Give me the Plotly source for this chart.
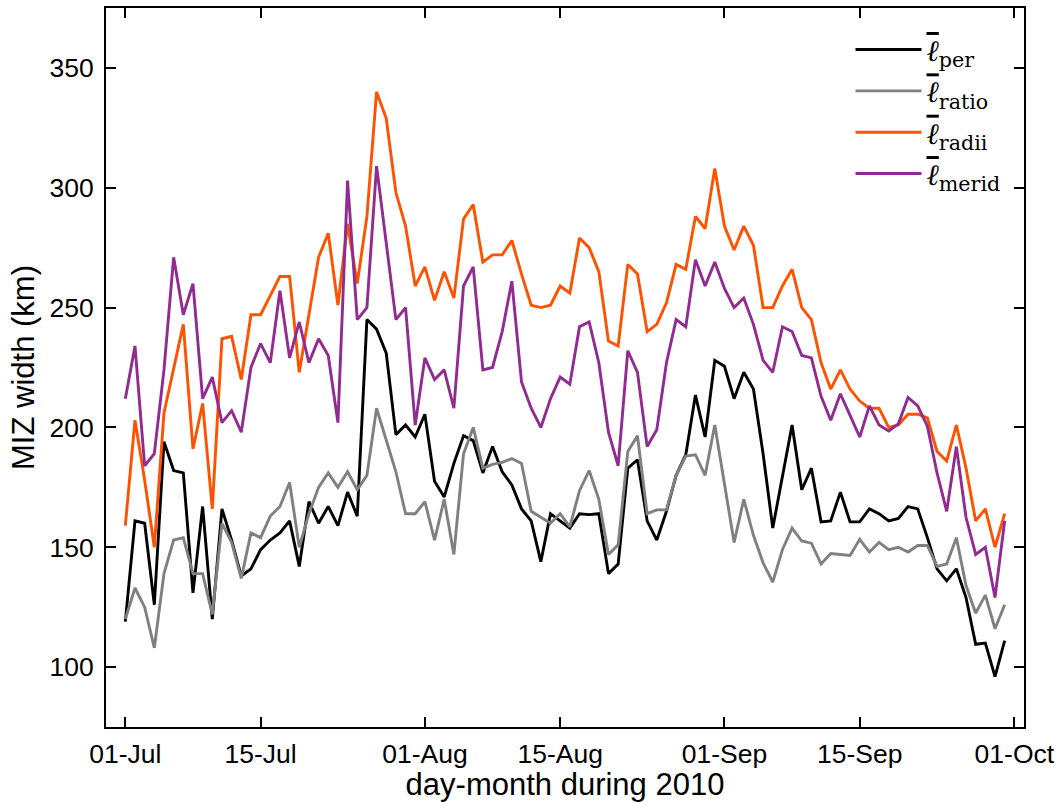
import pandas as pd
import plotly.graph_objects as go

dates = pd.date_range("2010-07-01", "2010-09-30", freq="D")

l_per = [119, 161, 160, 126, 194, 182, 181, 131, 167, 120, 166, 153, 138, 141, 149, 153, 156, 161, 142, 169,
         160, 167, 159, 173, 163, 245, 241, 231, 197, 201, 196, 205.5, 177.5, 171, 185, 196.5, 194.5, 181, 192, 181.5,
         176, 166, 161, 144, 164, 161, 158, 164, 163.6, 164, 139, 143, 183, 186.5, 161, 153, 165, 180, 188.6, 213.5,
         196, 228, 225.5, 212, 223, 216, 189, 158, 179, 201, 174, 183, 160.6, 161, 173, 160.6, 160.6, 166, 164, 161,
         162, 167, 166, 154, 141, 136, 141, 129, 109.5, 110, 96, 111]

l_ratio = [120, 133, 125, 108, 139, 153, 154, 139, 139, 122, 160, 152, 137, 156, 154, 163, 167, 177, 150, 164,
           175, 181, 175, 181.5, 174, 180, 208, 195, 181.5, 164, 164, 169, 153, 170, 147, 189, 200, 183, 184.6, 185.4,
           187, 185, 165, 162.5, 160, 164, 158.5, 173.6, 182, 170, 147, 151, 190, 196.5, 164, 165.6, 165.6, 180, 188, 188.6,
           180, 201, 176, 152, 170, 155, 143.5, 135.5, 149, 158, 152.6, 151.7, 143, 147.4, 147, 146.6, 153.3, 148, 152, 149,
           150, 148, 150.7, 150.7, 142, 143, 154, 134, 122.5, 130, 116, 126]

l_radii = [159, 203, 178, 150, 206, 225, 243, 191, 210, 166, 237, 238, 220, 247, 247, 255, 263, 263, 223, 247,
           271, 281, 251, 285, 260, 288, 340, 329, 298, 284, 259, 267, 253, 265, 254, 287, 293, 269, 272, 272,
           278, 264, 251, 250, 251, 259, 256, 279, 275, 265, 236, 234, 268, 264, 240, 243, 252, 268, 266, 288,
           283, 308, 284, 274, 284, 276, 250, 250, 259, 266, 250, 245, 227, 216, 224, 216, 211, 208, 208, 200,
           201, 205.5, 205.5, 204, 190, 186, 201, 183, 161, 166, 150, 164]

l_merid = [212, 234, 184, 189, 224, 271, 247, 260, 212, 221, 202, 207, 198, 225, 235, 227, 257, 229, 244, 227,
           237, 230, 202, 303, 245, 250, 309, 278, 245, 250, 201, 229, 220, 224, 208, 259, 267, 224, 225, 240,
           261, 219, 208, 200, 212, 221, 218, 242, 244, 227, 198, 184, 232, 223, 192, 199, 227, 245, 242, 270,
           259, 269, 258, 250, 254, 243, 228, 223, 242, 240, 230, 229, 213, 203, 214, 205, 196, 209, 201, 198.5,
           201.5, 212.5, 209, 200.5, 181, 165, 192, 162.5, 147, 150, 129, 161]

tick_dates = ["2010-07-01", "2010-07-15", "2010-08-01", "2010-08-15", "2010-09-01", "2010-09-15", "2010-10-01"]
tick_labels = ["01-Jul", "15-Jul", "01-Aug", "15-Aug", "01-Sep", "15-Sep", "01-Oct"]
y_ticks = [100, 150, 200, 250, 300, 350]

ell = '<span style="text-decoration:overline"><i>ℓ</i></span>'
series = [
    (ell + "<sub>per</sub>", l_per, "#000000"),
    (ell + "<sub>ratio</sub>", l_ratio, "#808080"),
    (ell + "<sub>radii</sub>", l_radii, "#FF5200"),
    (ell + "<sub>merid</sub>", l_merid, "#912B91"),
]

fig = go.Figure()
for name, vals, col in series:
    fig.add_trace(go.Scatter(x=dates, y=vals, mode="lines", name=name,
                             line=dict(color=col, width=2.9)))

sans = "Liberation Sans, Arial, Helvetica, sans-serif"
tick_font = dict(family=sans, size=26.5, color="#000")
fig.update_layout(
    width=1063, height=802,
    margin=dict(l=106, r=38.5, t=6, b=71.3),
    paper_bgcolor="white", plot_bgcolor="white",
    font=dict(family=sans, color="#000"),
    showlegend=True,
    legend=dict(x=0.811, y=0.978, xanchor="left", yanchor="top",
                bgcolor="rgba(0,0,0,0)", itemwidth=66, tracegroupgap=0,
                font=dict(family="DejaVu Serif, Liberation Serif, serif", size=29.5, color="#000")),
)
fig.update_xaxes(
    range=["2010-06-29", "2010-10-02"],
    tickvals=tick_dates, ticktext=tick_labels,
    ticks="inside", ticklen=10, tickwidth=1.6, tickcolor="#000",
    showline=True, linecolor="#000", linewidth=2, mirror="ticks",
    showgrid=False, zeroline=False,
    tickfont=tick_font, ticklabelstandoff=2,
    title=dict(text="day-month during 2010", font=dict(family=sans, size=31), standoff=6),
)
fig.update_yaxes(
    range=[75, 375],
    tickvals=y_ticks,
    ticks="inside", ticklen=10, tickwidth=1.6, tickcolor="#000",
    showline=True, linecolor="#000", linewidth=2, mirror="ticks",
    showgrid=False, zeroline=False,
    tickfont=tick_font, ticklabelstandoff=5,
    title=dict(text="MIZ width (km)", font=dict(family=sans, size=31), standoff=6),
)

fig.write_html("out.html", config={"displayModeBar": False},
               post_script="document.body.style.margin='0px';")
